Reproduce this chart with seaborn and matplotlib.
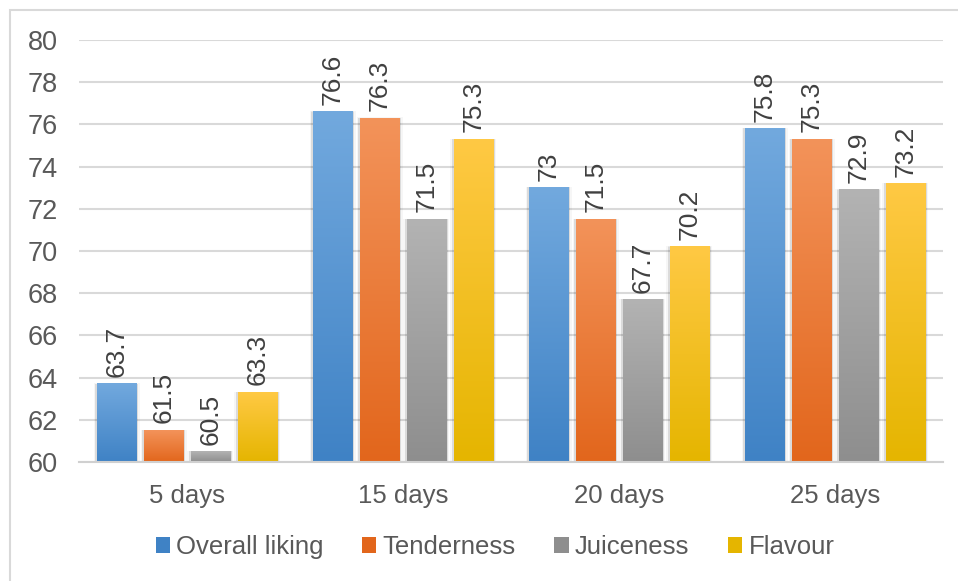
import numpy as np
import pandas as pd
import matplotlib
matplotlib.use("Agg")
import matplotlib.pyplot as plt
from matplotlib.colors import LinearSegmentedColormap
from matplotlib.patches import Patch, Rectangle
import seaborn as sns

# Sensory scores by ageing time
periods = ["5 days", "15 days", "20 days", "25 days"]
attributes = ["Overall liking", "Tenderness", "Juiceness", "Flavour"]
overall_liking = [63.7, 76.6, 73.0, 75.8]
tenderness = [61.5, 76.3, 71.5, 75.3]
juiceness = [60.5, 71.5, 67.7, 72.9]
flavour = [63.3, 75.3, 70.2, 73.2]
y_ticks = [60, 62, 64, 66, 68, 70, 72, 74, 76, 78, 80]

series = [overall_liking, tenderness, juiceness, flavour]
df = pd.DataFrame({
    "period": [p for s in series for p in periods],
    "attribute": [a for a, s in zip(attributes, series) for _ in s],
    "score": [v for s in series for v in s],
})

# top / bottom colours of the vertical gradient per attribute
grad = {
    "Overall liking": ("#72A9DE", "#3F82C5"),
    "Tenderness": ("#F3935A", "#E2661C"),
    "Juiceness": ("#B3B3B3", "#8E8E8E"),
    "Flavour": ("#FFC944", "#E5B500"),
}
base = {k: v[1] for k, v in grad.items()}

sns.set_theme(style="white")
plt.rcParams["font.family"] = ["Liberation Sans", "DejaVu Sans"]
text_color = "#595959"
y_min, y_max = 60, 80

fig = plt.figure(figsize=(9.58, 5.81), dpi=100)
fig.patch.set_facecolor("white")
ax = fig.add_axes([79 / 958, 1 - 462 / 581, (943 - 79) / 958, (462 - 40) / 581])

sns.barplot(data=df, x="period", y="score", hue="attribute",
            hue_order=attributes, order=periods, palette=base,
            width=0.87, gap=0.15, ax=ax, legend=False, saturation=1)

ax.set_ylim(y_min, y_max)
ax.set_yticks(y_ticks)
ax.set_xlim(-0.5, 3.5)
ax.set_xlabel("")
ax.set_ylabel("")
for s in ["top", "right", "left"]:
    ax.spines[s].set_visible(False)
ax.spines["bottom"].set_color("#D0D0D0")
ax.spines["bottom"].set_linewidth(1.5)
ax.yaxis.grid(True, color="#D9D9D9", linewidth=1.5)
ax.set_axisbelow(True)
ax.tick_params(axis="both", length=0, colors=text_color)
ax.tick_params(axis="y", pad=15, labelsize=19.5)
ax.tick_params(axis="x", pad=16, labelsize=18.5)

# gradient fill and soft shadow for every bar (visible part only)
gradient = np.linspace(0, 1, 256).reshape(-1, 1)
for attr, container in zip(attributes, ax.containers):
    cmap = LinearSegmentedColormap.from_list(attr, [grad[attr][0], grad[attr][1]])
    for bar in container.patches:
        x0, w = bar.get_x(), bar.get_width()
        top = bar.get_y() + bar.get_height()
        for k, a in [(0.014, 0.035), (0.009, 0.05), (0.005, 0.06)]:
            ax.add_patch(Rectangle((x0 - k, y_min), w + 2 * k, top - y_min + k * 2,
                                   facecolor="black", alpha=a, edgecolor="none",
                                   zorder=1.5))
        ax.imshow(gradient, aspect="auto", cmap=cmap,
                  extent=(x0, x0 + w, y_min, top), origin="upper", zorder=2)
        bar.set_visible(False)
    ax.bar_label(container, fmt="%g", rotation=90, padding=5,
                 fontsize=19, color="#404040")

ax.set_xlim(-0.5, 3.5)
ax.set_ylim(y_min, y_max)

handles = [Patch(facecolor=grad[a][1], edgecolor="none") for a in attributes]
fig.legend(handles, attributes, loc="center", ncol=4,
           bbox_to_anchor=(495 / 958, 1 - 547 / 581), frameon=False,
           fontsize=18.5, labelcolor=text_color, handlelength=0.55,
           handleheight=0.55, handletextpad=0.25, columnspacing=1.5)

# outer chart frame
fig.add_artist(Rectangle((10 / 958, -0.1), 1.2, 1 - 10 / 581 + 0.1,
                         transform=fig.transFigure, facecolor="none",
                         edgecolor="#D9D9D9", linewidth=1.5))

fig.savefig("out.png", dpi=100)
